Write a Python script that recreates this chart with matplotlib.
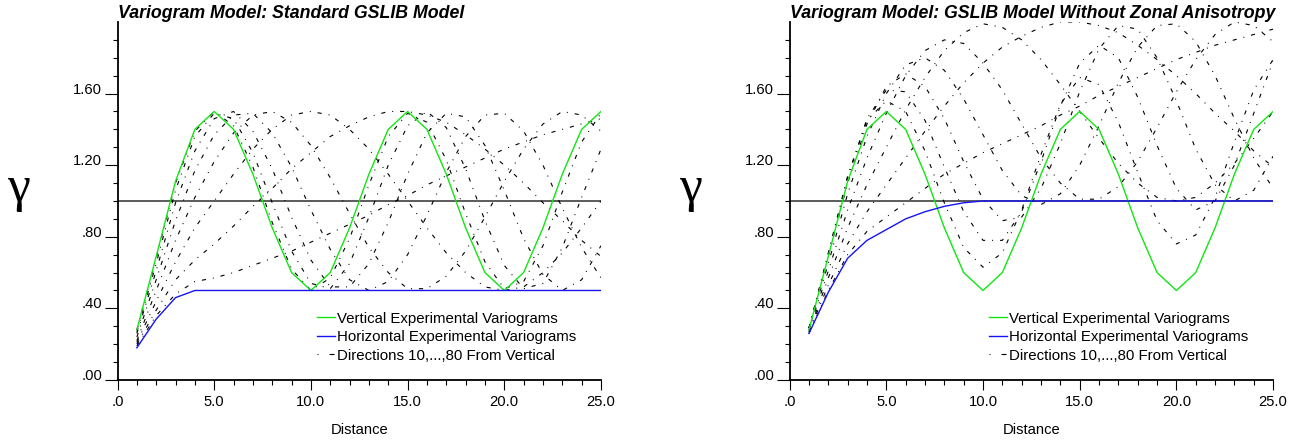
import matplotlib
matplotlib.use("Agg")
import matplotlib.pyplot as plt
from matplotlib.lines import Line2D
import numpy as np

plt.rcParams['font.family'] = ['Liberation Sans', 'DejaVu Sans']
plt.rcParams['lines.scale_dashes'] = False

# lag distances
lags = list(range(1, 26))

# vertical experimental variogram (same in both panels)
vert = [0.28, 0.69, 1.11, 1.40, 1.50, 1.40, 1.15, 0.85, 0.60, 0.50, 0.60, 0.85, 1.15,
        1.40, 1.50, 1.40, 1.15, 0.85, 0.60, 0.50, 0.60, 0.85, 1.15, 1.40, 1.50]

# horizontal experimental variograms
hor_left = [0.18, 0.34, 0.46, 0.50, 0.50, 0.50, 0.50, 0.50, 0.50, 0.50, 0.50, 0.50, 0.50,
            0.50, 0.50, 0.50, 0.50, 0.50, 0.50, 0.50, 0.50, 0.50, 0.50, 0.50, 0.50]
hor_right = [0.26, 0.49, 0.68, 0.78, 0.84, 0.90, 0.94, 0.97, 0.99, 1.00, 1.00, 1.00, 1.00,
             1.00, 1.00, 1.00, 1.00, 1.00, 1.00, 1.00, 1.00, 1.00, 1.00, 1.00, 1.00]

# model in directions 10..80 from vertical, standard GSLIB model
L10 = [0.28, 0.68, 1.10, 1.39, 1.50, 1.42, 1.19, 0.88, 0.62, 0.50, 0.57, 0.79, 1.09,
       1.36, 1.49, 1.44, 1.23, 0.93, 0.66, 0.51, 0.55, 0.75, 1.05, 1.33, 1.49]
L20 = [0.27, 0.65, 1.06, 1.36, 1.49, 1.46, 1.27, 0.99, 0.72, 0.54, 0.51, 0.65, 0.91,
       1.20, 1.42, 1.50, 1.41, 1.18, 0.89, 0.64, 0.51, 0.54, 0.74, 1.02, 1.29]
L30 = [0.26, 0.61, 0.99, 1.28, 1.46, 1.50, 1.39, 1.18, 0.91, 0.67, 0.52, 0.52, 0.65,
       0.88, 1.15, 1.38, 1.49, 1.47, 1.31, 1.06, 0.79, 0.59, 0.50, 0.56, 0.75]
L40 = [0.24, 0.56, 0.89, 1.17, 1.37, 1.48, 1.49, 1.38, 1.19, 0.95, 0.73, 0.56, 0.50,
       0.55, 0.70, 0.92, 1.16, 1.36, 1.48, 1.49, 1.39, 1.20, 0.96, 0.74, 0.57]
L50 = [0.22, 0.50, 0.78, 1.02, 1.22, 1.38, 1.48, 1.50, 1.44, 1.31, 1.13, 0.93, 0.74,
       0.60, 0.51, 0.51, 0.58, 0.72, 0.91, 1.11, 1.29, 1.43, 1.50, 1.48, 1.39]
L60 = [0.21, 0.44, 0.66, 0.85, 1.00, 1.15, 1.29, 1.40, 1.48, 1.50, 1.48, 1.40, 1.29,
       1.15, 1.00, 0.85, 0.71, 0.60, 0.52, 0.50, 0.52, 0.60, 0.71, 0.85, 1.00]
L70 = [0.20, 0.39, 0.56, 0.67, 0.76, 0.86, 0.97, 1.07, 1.18, 1.27, 1.36, 1.42, 1.47,
       1.50, 1.50, 1.48, 1.44, 1.37, 1.29, 1.20, 1.10, 0.99, 0.89, 0.78, 0.69]
L80 = [0.19, 0.36, 0.48, 0.55, 0.57, 0.60, 0.64, 0.68, 0.72, 0.77, 0.82, 0.87, 0.92,
       0.98, 1.03, 1.09, 1.14, 1.19, 1.24, 1.29, 1.33, 1.37, 1.40, 1.43, 1.46]

# model in directions 10..80 from vertical, without zonal anisotropy
R10 = [0.29, 0.71, 1.14, 1.45, 1.56, 1.50, 1.28, 0.99, 0.74, 0.63, 0.71, 0.95, 1.26,
       1.54, 1.69, 1.65, 1.44, 1.16, 0.89, 0.76, 0.81, 1.02, 1.33, 1.62, 1.79]
R20 = [0.29, 0.70, 1.13, 1.46, 1.62, 1.61, 1.45, 1.19, 0.94, 0.78, 0.78, 0.94, 1.22,
       1.53, 1.77, 1.87, 1.80, 1.58, 1.31, 1.07, 0.95, 1.00, 1.20, 1.49, 1.78]
R30 = [0.29, 0.69, 1.10, 1.43, 1.64, 1.71, 1.64, 1.46, 1.22, 1.01, 0.89, 0.91, 1.07,
       1.32, 1.61, 1.85, 1.98, 1.96, 1.80, 1.56, 1.29, 1.09, 1.00, 1.06, 1.25]
R40 = [0.29, 0.65, 1.04, 1.36, 1.60, 1.76, 1.80, 1.73, 1.57, 1.37, 1.17, 1.03, 0.98,
       1.04, 1.20, 1.42, 1.66, 1.86, 1.98, 1.99, 1.89, 1.70, 1.46, 1.24, 1.07]
R50 = [0.28, 0.61, 0.95, 1.24, 1.49, 1.70, 1.84, 1.90, 1.88, 1.77, 1.62, 1.43, 1.24,
       1.10, 1.01, 1.01, 1.08, 1.22, 1.41, 1.61, 1.79, 1.93, 2.00, 1.98, 1.89]
R60 = [0.27, 0.57, 0.85, 1.09, 1.30, 1.51, 1.69, 1.84, 1.94, 1.99, 1.97, 1.90, 1.79,
       1.65, 1.50, 1.35, 1.21, 1.10, 1.02, 1.00, 1.02, 1.10, 1.21, 1.35, 1.50]
R70 = [0.27, 0.53, 0.76, 0.94, 1.09, 1.24, 1.39, 1.53, 1.66, 1.77, 1.86, 1.92, 1.97,
       2.00, 2.00, 1.98, 1.94, 1.87, 1.79, 1.70, 1.60, 1.49, 1.39, 1.28, 1.19]
R80 = [0.26, 0.50, 0.70, 0.83, 0.91, 0.99, 1.07, 1.15, 1.21, 1.27, 1.32, 1.37, 1.42,
       1.48, 1.53, 1.59, 1.64, 1.69, 1.74, 1.79, 1.83, 1.87, 1.90, 1.93, 1.96]

dirs_left = [L10, L20, L30, L40, L50, L60, L70, L80]
dirs_right = [R10, R20, R30, R40, R50, R60, R70, R80]

titles = ['Variogram Model: Standard GSLIB Model',
          'Variogram Model: GSLIB Model Without Zonal Anisotropy']
legend_labels = ['Vertical Experimental Variograms', 'Horizontal Experimental Variograms',
                 'Directions 10,...,80 From Vertical']
xtick_labels = ['.0', '5.0', '10.0', '15.0', '20.0', '25.0']
ytick_labels = ['.00', '.40', '.80', '1.20', '1.60']
sill = 1.0

green = '#11e611'
blue = '#1414f5'
dashdot = (0, (3, 5, 0.7, 5))

fig = plt.figure(figsize=(13, 4.42), dpi=100)
axes = [fig.add_axes([0.0904, 0.1403, 0.3719, 0.81]),
        fig.add_axes([0.6074, 0.1403, 0.3719, 0.81])]

for ax, title, dirs, hor in zip(axes, titles, [dirs_left, dirs_right], [hor_left, hor_right]):
    ax.axhline(sill, color='#404040', lw=1.2)
    for d in dirs:
        ax.plot(lags, d, color='black', lw=0.8, linestyle=dashdot)
    ax.plot(lags, vert, color=green, lw=1.0)
    ax.plot(lags, hor, color=blue, lw=1.0)

    ax.set_xlim(0, 25)
    ax.set_ylim(0, 2.0)
    ax.spines['top'].set_visible(False)
    ax.spines['right'].set_visible(False)
    for s in ['left', 'bottom']:
        ax.spines[s].set_linewidth(1.3)

    ax.set_xticks(np.arange(0, 26, 5))
    ax.set_xticklabels(xtick_labels)
    ax.set_xticks(np.arange(0, 26, 1), minor=True)
    ax.set_yticks([0, 0.4, 0.8, 1.2, 1.6])
    ax.set_yticklabels(ytick_labels)
    ax.set_yticks(np.arange(0.1, 1.95, 0.1), minor=True)
    ax.tick_params(axis='x', which='major', length=7.2, width=0.8, pad=3.5, labelsize=10.6)
    ax.tick_params(axis='x', which='minor', length=3.6, width=0.8)
    ax.tick_params(axis='y', which='major', length=9.5, width=0.8, pad=1.5, labelsize=10.6)
    ax.tick_params(axis='y', which='minor', length=3.6, width=0.8)
    for lab in ax.get_yticklabels():
        lab.set_verticalalignment('baseline')

    ax.text(0, 1.011, title, transform=ax.transAxes, fontsize=12.8, fontweight='bold',
            fontstyle='italic', va='baseline')
    ax.text(0.5, -0.14, 'Distance', transform=ax.transAxes, ha='center', va='center',
            fontsize=10.6)
    ax.text(-0.205, 0.535, 'γ', transform=ax.transAxes, ha='center', va='center',
            fontsize=37, family='Liberation Serif')

    handles = [Line2D([], [], color=green, lw=1.0),
               Line2D([], [], color=blue, lw=1.0),
               Line2D([], [], color='black', lw=0.8, linestyle=(0, (0.7, 8, 3.6, 5)))]
    ax.legend(handles, legend_labels, loc='upper left', bbox_to_anchor=(0.413, 0.191),
              frameon=False, fontsize=10.8, handlelength=1.2, handletextpad=0.13,
              labelspacing=0.3, borderpad=0, borderaxespad=0)

fig.savefig('out.png', dpi=100)
